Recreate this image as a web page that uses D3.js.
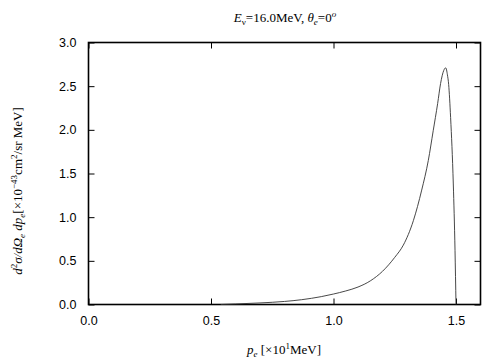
<!DOCTYPE html>
<html>
<head>
<meta charset="utf-8">
<script src="https://cdn.jsdelivr.net/npm/d3@7"></script>
<style>
body { margin: 0; background: #fff; }
svg { display: block; }
.tick text { font-family: "Liberation Sans", Arial, sans-serif; font-size: 12.5px; fill: #000; }
.lbl { font-family: "Liberation Serif", "Times New Roman", serif; font-size: 13px; fill: #000; }
</style>
</head>
<body>
<svg width="504" height="360"></svg>
<script>
// electron momentum [x10 MeV] and cross section [1e-43 cm^2/sr MeV]
const pe = [0.54, 0.6, 0.7, 0.8, 0.87, 0.95, 1.0, 1.05, 1.1, 1.15, 1.2, 1.25, 1.285, 1.326, 1.36, 1.387, 1.407, 1.425, 1.437, 1.45, 1.458, 1.465, 1.47, 1.478, 1.489, 1.496, 1.50];
const xsec = [0.0, 0.006, 0.018, 0.035, 0.055, 0.09, 0.12, 0.155, 0.2, 0.27, 0.38, 0.54, 0.68, 0.96, 1.31, 1.65, 1.99, 2.3, 2.53, 2.68, 2.71, 2.63, 2.52, 2.14, 1.38, 0.62, 0.0];
const xTicks = [0, 0.5, 1.0, 1.5];
const yTicks = [0, 0.5, 1.0, 1.5, 2.0, 2.5, 3.0];

const svg = d3.select("svg");
const mLeft = 88.5, mRight = 480.5, mTop = 42.5, mBottom = 304.5;

const x = d3.scaleLinear().domain([0, 1.6]).range([mLeft, mRight]);
const y = d3.scaleLinear().domain([0, 3]).range([mBottom, mTop]);

// axes with inward ticks
svg.append("g").attr("transform", `translate(0,${mBottom})`)
    .call(d3.axisBottom(x).tickValues(xTicks).tickFormat(d3.format(".1f")).tickSizeInner(-6).tickSizeOuter(0).tickPadding(12))
    .call(g => g.select(".domain").remove());
svg.append("g").attr("transform", `translate(0,${mTop})`)
    .call(d3.axisTop(x).tickValues(xTicks).tickFormat("").tickSizeInner(-6).tickSizeOuter(0))
    .call(g => g.select(".domain").remove());
svg.append("g").attr("transform", `translate(${mLeft},0)`)
    .call(d3.axisLeft(y).tickValues(yTicks).tickFormat(d3.format(".1f")).tickSizeInner(-6).tickSizeOuter(0).tickPadding(12))
    .call(g => g.select(".domain").remove());
svg.append("g").attr("transform", `translate(${mRight},0)`)
    .call(d3.axisRight(y).tickValues(yTicks).tickFormat("").tickSizeInner(-6).tickSizeOuter(0))
    .call(g => g.select(".domain").remove());
svg.selectAll(".tick line").attr("stroke", "#000").attr("stroke-width", 1);

svg.append("rect")
    .attr("x", mLeft).attr("y", mTop)
    .attr("width", mRight - mLeft).attr("height", mBottom - mTop)
    .attr("fill", "none").attr("stroke", "#000").attr("stroke-width", 1.6);

const pts = pe.map((v, i) => [v, xsec[i]]);
svg.append("path")
    .datum(pts)
    .attr("fill", "none")
    .attr("stroke", "#333")
    .attr("stroke-width", 0.9)
    .attr("d", d3.line().x(d => x(d[0])).y(d => y(d[1])).curve(d3.curveMonotoneX));

// title
const t = svg.append("text").attr("class", "lbl").attr("x", 285).attr("y", 22).attr("text-anchor", "middle");
t.append("tspan").attr("font-style", "italic").text("E");
t.append("tspan").attr("font-size", "9px").attr("dy", 3).text("ν");
t.append("tspan").attr("dy", -3).text("=16.0MeV,  ");
t.append("tspan").attr("font-style", "italic").text("θ");
t.append("tspan").attr("font-size", "9px").attr("dy", 3).attr("font-style", "italic").text("e");
t.append("tspan").attr("dy", -3).text("=0");
t.append("tspan").attr("font-size", "9px").attr("dy", -5).attr("font-style", "italic").text("o");

// x label
const xl = svg.append("text").attr("class", "lbl").attr("x", 284).attr("y", 354).attr("text-anchor", "middle");
xl.append("tspan").attr("font-style", "italic").text("p");
xl.append("tspan").attr("font-size", "9px").attr("dy", 3).attr("font-style", "italic").text("e");
xl.append("tspan").attr("dy", -3).text(" [×10");
xl.append("tspan").attr("font-size", "9px").attr("dy", -5).text("1");
xl.append("tspan").attr("dy", 5).text("MeV]");

// y label
const yl = svg.append("text").attr("class", "lbl")
    .attr("transform", "translate(22,191) rotate(-90)").attr("text-anchor", "middle");
yl.append("tspan").attr("font-style", "italic").text("d");
yl.append("tspan").attr("font-size", "9px").attr("dy", -5).text("2");
yl.append("tspan").attr("dy", 5).attr("font-style", "italic").text("σ/dΩ");
yl.append("tspan").attr("font-size", "9px").attr("dy", 3).attr("font-style", "italic").text("e");
yl.append("tspan").attr("dy", -3).attr("font-style", "italic").text(" dp");
yl.append("tspan").attr("font-size", "9px").attr("dy", 3).attr("font-style", "italic").text("e");
yl.append("tspan").attr("dy", -3).text("[×10");
yl.append("tspan").attr("font-size", "9px").attr("dy", -5).text("−43");
yl.append("tspan").attr("dy", 5).text("cm");
yl.append("tspan").attr("font-size", "9px").attr("dy", -5).text("2");
yl.append("tspan").attr("dy", 5).text("/sr MeV]");
</script>
</body>
</html>
